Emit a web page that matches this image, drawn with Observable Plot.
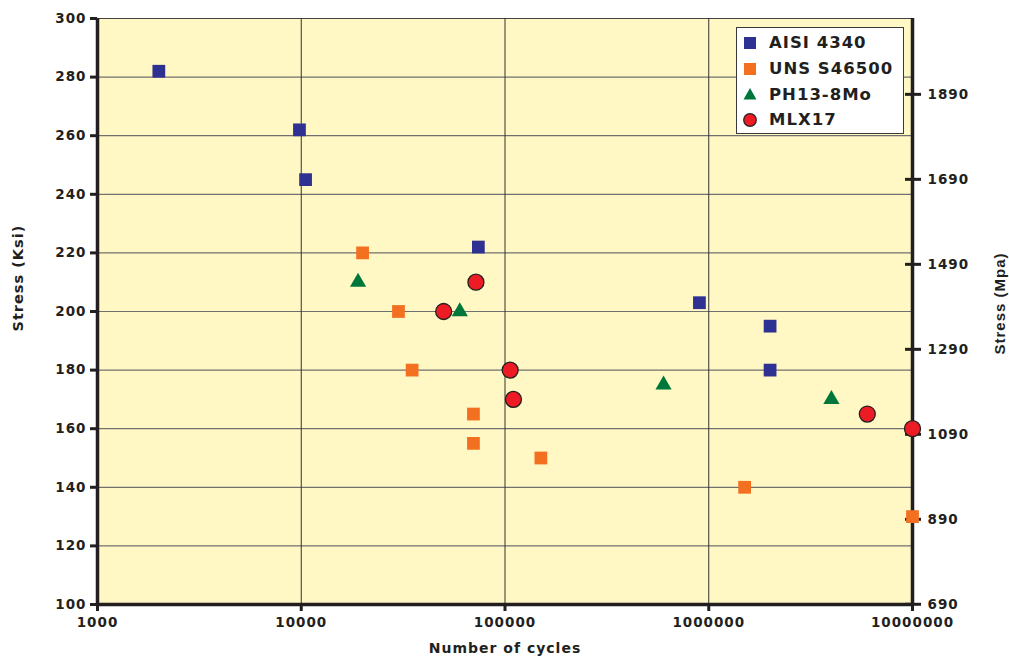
<!DOCTYPE html>
<html><head><meta charset="utf-8">
<script src="https://cdn.jsdelivr.net/npm/d3@7"></script>
<script src="https://cdn.jsdelivr.net/npm/@observablehq/plot@0.6"></script>
<style>
body{margin:0;background:#fff;}
#wrap{position:relative;width:1009px;height:663px;font-family:"DejaVu Sans",Verdana,sans-serif;}
#legend{position:absolute;left:736px;top:27px;width:168px;height:107px;background:#fff;border:1.5px solid #3a3a3a;box-sizing:border-box;padding-top:2px;}
.row{display:flex;align-items:center;height:25.7px;font-weight:bold;font-size:16.5px;letter-spacing:1px;color:#231f20;}
.row svg{margin-left:6px;margin-right:12px;}
</style></head>
<body><div id="wrap"></div>
<script>
// Data
const aisiCycles = [2000, 9800, 10500, 74000, 900000, 2000000, 2000000];
const aisiStress = [282, 262, 245, 222, 203, 195, 180];
const unsCycles = [20000, 30000, 35000, 70000, 70000, 150000, 1500000, 10000000];
const unsStress = [220, 200, 180, 165, 155, 150, 140, 130];
const phCycles = [19000, 60000, 600000, 4000000];
const phStress = [210, 200, 175, 170];
const mlxCycles = [50000, 72000, 106000, 110000, 6000000, 10000000];
const mlxStress = [200, 210, 180, 170, 165, 160];
const seriesNames = ["AISI 4340", "UNS S46500", "PH13-8Mo", "MLX17"];
const seriesColors = ["#2e3192", "#f37021", "#00773a", "#ed1c24"];
const ksiTicks = [100, 120, 140, 160, 180, 200, 220, 240, 260, 280, 300];
const mpaTicks = [690, 890, 1090, 1290, 1490, 1690, 1890];
const cycleTicks = [1000, 10000, 100000, 1000000, 10000000];
const MPA_PER_KSI = 6.895;

const toRows = (c, s) => c.map((x, i) => ({cycles: x, stress: s[i]}));
const aisi = toRows(aisiCycles, aisiStress);
const uns = toRows(unsCycles, unsStress);
const ph = toRows(phCycles, phStress);
const mlx = toRows(mlxCycles, mlxStress);
const mpaKsi = mpaTicks.map(m => m / MPA_PER_KSI);

const ink = "#231f20";
const chart = Plot.plot({
  width: 1009, height: 663,
  marginLeft: 97, marginRight: 97, marginTop: 18, marginBottom: 59,
  style: {fontFamily: '"DejaVu Sans", Verdana, sans-serif', fontSize: "13.5px", fontWeight: "bold", letterSpacing: "1px", color: ink, background: "#fff"},
  x: {type: "log", domain: [1000, 10000000]},
  y: {domain: [100, 300]},
  marks: [
    Plot.frame({fill: "#fff8c4", stroke: "#444", strokeWidth: 1}),
    Plot.ruleY(ksiTicks.filter(d => d > 100 && d < 300), {stroke: "#707070", strokeWidth: 1.2}),
    Plot.ruleX(cycleTicks.filter(d => d > 1000 && d < 10000000), {stroke: "#333", strokeWidth: 1}),
    // axes
    Plot.axisY({ticks: ksiTicks, anchor: "left", tickSize: 7, tickPadding: 4, tickFormat: d => String(d), strokeWidth: 3, stroke: ink, fill: ink, label: null}),
    Plot.axisX({ticks: cycleTicks, anchor: "bottom", tickSize: 7, tickPadding: 6, tickFormat: d => String(d), strokeWidth: 3, stroke: ink, fill: ink, label: null}),
    Plot.axisY(mpaKsi, {anchor: "right", tickSize: 16, dx: -8, tickFormat: () => "", strokeWidth: 3, stroke: ink, label: null}),
    Plot.axisY(mpaKsi, {anchor: "right", tickSize: 0, tickPadding: 15, tickFormat: d => String(Math.round(d * MPA_PER_KSI)), fill: ink, label: null}),
    Plot.ruleX([1000], {stroke: ink, strokeWidth: 3.5}),
    Plot.ruleX([10000000], {stroke: ink, strokeWidth: 3.5}),
    Plot.ruleY([100], {stroke: ink, strokeWidth: 3.5}),
    // axis titles
    Plot.text(["Stress (Ksi)"], {frameAnchor: "left", dx: -79, dy: 20, rotate: -90, fontSize: 14.5, fill: ink}),
    Plot.text(["Stress (Mpa)"], {frameAnchor: "right", dx: 88, dy: -59, rotate: -90, fontSize: 15, fontFamily: '"Liberation Sans", Arial, sans-serif', letterSpacing: "0.5px", fill: ink}),
    Plot.text(["Number of cycles"], {frameAnchor: "bottom", dy: 48, fontSize: 14, fill: ink}),
    // data
    Plot.dot(aisi, {x: "cycles", y: "stress", symbol: "square", r: 7.2, fill: seriesColors[0]}),
    Plot.dot(uns, {x: "cycles", y: "stress", symbol: "square", r: 7.2, fill: seriesColors[1]}),
    Plot.dot(ph, {x: "cycles", y: "stress", symbol: "triangle", r: 6, fill: seriesColors[2]}),
    Plot.dot(mlx, {x: "cycles", y: "stress", symbol: "circle", r: 8, fill: seriesColors[3], stroke: ink, strokeWidth: 1.3})
  ]
});
const wrap = document.getElementById("wrap");
wrap.appendChild(chart);

// legend
const legend = document.createElement("div");
legend.id = "legend";
const shapes = [
  c => `<rect x="1" y="1" width="12" height="12" fill="${c}"/>`,
  c => `<rect x="1" y="1" width="12" height="12" fill="${c}"/>`,
  c => `<polygon points="7,1 13.5,12.5 0.5,12.5" fill="${c}"/>`,
  c => `<circle cx="7" cy="7" r="6.3" fill="${c}" stroke="${ink}" stroke-width="1.2"/>`
];
seriesNames.forEach((n, i) => {
  const row = document.createElement("div");
  row.className = "row";
  row.innerHTML = `<svg width="14" height="14">${shapes[i](seriesColors[i])}</svg><span>${n}</span>`;
  legend.appendChild(row);
});
wrap.appendChild(legend);
</script></body></html>
